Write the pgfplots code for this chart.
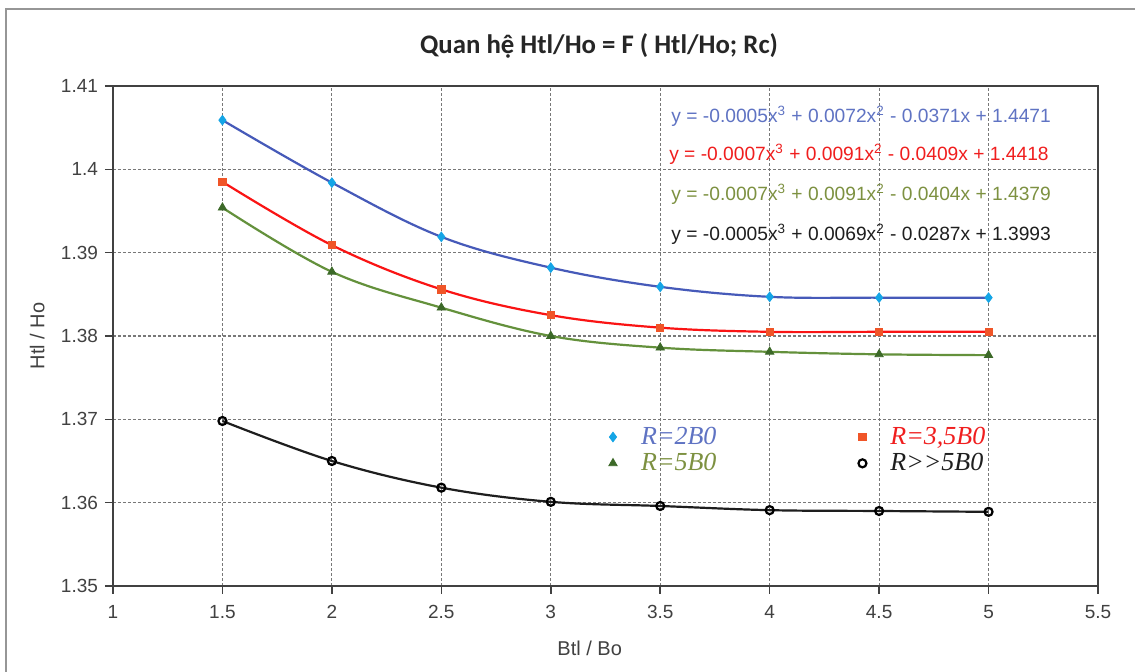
\documentclass[border=0pt]{standalone}
\usepackage{fontspec}
\setmainfont{Liberation Sans}
\newfontfamily\titlefont{Carlito}
\newfontfamily\legfont{Liberation Serif}
\usepackage{pgfplots}
\pgfplotsset{compat=1.18}
\definecolor{bline}{RGB}{70,90,185}
\definecolor{bmark}{RGB}{20,165,230}
\definecolor{btext}{RGB}{95,115,195}
\definecolor{rline}{RGB}{250,20,20}
\definecolor{rmark}{RGB}{240,85,40}
\definecolor{rtext}{RGB}{240,30,30}
\definecolor{gline}{RGB}{100,145,60}
\definecolor{gmark}{RGB}{60,105,40}
\definecolor{gtext}{RGB}{125,145,65}
\definecolor{kline}{RGB}{30,30,30}
\definecolor{axc}{RGB}{65,65,65}
\definecolor{gridc}{RGB}{120,120,120}
\definecolor{framec}{RGB}{150,150,150}

\pgfplotstableread{
x y
1.5 1.4059
2.0 1.3984
2.5 1.3919
3.0 1.3882
3.5 1.3859
4.0 1.3847
4.5 1.3846
5.0 1.3846
}\blue
\pgfplotstableread{
x y
1.5 1.3985
2.0 1.3909
2.5 1.3856
3.0 1.3825
3.5 1.3810
4.0 1.3805
4.5 1.3805
5.0 1.3805
}\red
\pgfplotstableread{
x y
1.5 1.3954
2.0 1.3877
2.5 1.3834
3.0 1.3800
3.5 1.3786
4.0 1.3781
4.5 1.3778
5.0 1.3777
}\green
\pgfplotstableread{
x y
1.5 1.3698
2.0 1.3650
2.5 1.3618
3.0 1.3601
3.5 1.3596
4.0 1.3591
4.5 1.3590
5.0 1.3589
}\black

\begin{document}
\begin{tikzpicture}
\useasboundingbox (-56.5pt,-43pt) rectangle (511pt,293pt);
\fill[white] (-56.5pt,-43pt) rectangle (511pt,293pt);
\draw[framec, line width=0.9pt] (-53.5pt,-43pt) -- (-53.5pt,288.5pt) -- (511pt,288.5pt);
\begin{axis}[
  at={(0pt,0pt)}, anchor=south west,
  width=492.5pt, height=250pt, scale only axis,
  xmin=1, xmax=5.5, ymin=1.35, ymax=1.41,
  xtick={1,1.5,2,2.5,3,3.5,4,4.5,5,5.5},
  xticklabels={1,1.5,2,2.5,3,3.5,4,4.5,5,5.5},
  ytick={1.35,1.36,1.37,1.38,1.39,1.40,1.41},
  yticklabels={1.35,1.36,1.37,1.38,1.39,1.4,1.41},
  grid=major,
  major grid style={gridc, line width=0.6pt, dash pattern=on 1.4pt off 1.1pt},
  axis line style={axc, line width=1pt},
  tick pos=left, tick align=outside,
  major tick length=4pt,
  tick style={axc, line width=0.8pt},
  ticklabel style={font=\fontsize{9.5}{11}\selectfont, text=axc},
  xticklabel style={yshift=-2pt},
  /pgf/number format/assume math mode=true,
  xlabel={Btl / Bo}, ylabel={Htl / Ho},
  label style={font=\fontsize{10}{12}\selectfont, text=axc},
  xlabel style={at={(axis description cs:0.484,-0.124)}, anchor=center},
  ylabel style={at={(axis description cs:-0.077,0.5)}, anchor=center},
  legend columns=2,
  legend cell align=left,
  legend style={at={(axis cs:3.236,1.3701)}, anchor=north west, draw=none, fill=none,
    font=\legfont\itshape\fontsize{13}{14}\selectfont,
    /tikz/every odd column/.append style={column sep=10pt},
    /tikz/every even column/.append style={column sep=69pt},
    row sep=-1pt},
]
\addplot[bline, line width=1.1pt, smooth, tension=0.6, forget plot] table {\blue};
\addplot[rline, line width=1.1pt, smooth, tension=0.6, forget plot] table {\red};
\addplot[gline, line width=1.1pt, smooth, tension=0.6, forget plot] table {\green};
\addplot[kline, line width=1.1pt, smooth, tension=0.6, forget plot] table {\black};

\addplot[only marks, mark=diamond*, mark size=2.4pt, mark options={fill=bmark, draw=bmark}] table {\blue};
\addlegendentry{\textcolor{btext}{R=2B0}}
\addplot[only marks, mark=square*, mark size=1.8pt, mark options={fill=rmark, draw=rmark}] table {\red};
\addlegendentry{\textcolor{rtext}{R=3,5B0}}
\addplot[only marks, mark=triangle*, mark size=2.4pt, mark options={fill=gmark, draw=gmark}] table {\green};
\addlegendentry{\textcolor{gtext}{R=5B0}}
\addplot[only marks, mark=o, mark size=2pt, mark options={draw=black, line width=1.1pt}] table {\black};
\addlegendentry{\textcolor{kline}{R>{}>5B0}}

\node[font=\fontsize{9.6}{12}\selectfont, text=btext] at (axis cs:4.418,1.4064) {y = -0.0005x\textsuperscript{3} + 0.0072x\textsuperscript{2} - 0.0371x + 1.4471};
\node[font=\fontsize{9.6}{12}\selectfont, text=rtext] at (axis cs:4.408,1.4018) {y = -0.0007x\textsuperscript{3} + 0.0091x\textsuperscript{2} - 0.0409x + 1.4418};
\node[font=\fontsize{9.6}{12}\selectfont, text=gtext] at (axis cs:4.418,1.3970) {y = -0.0007x\textsuperscript{3} + 0.0091x\textsuperscript{2} - 0.0404x + 1.4379};
\node[font=\fontsize{9.6}{12}\selectfont, text=kline] at (axis cs:4.418,1.3922) {y = -0.0005x\textsuperscript{3} + 0.0069x\textsuperscript{2} - 0.0287x + 1.3993};
\end{axis}
\node[font=\titlefont\bfseries\fontsize{13.4}{15}\selectfont, text=black!85] at (243pt,270pt) {Quan hệ Htl/Ho = F ( Htl/Ho; Rc)};
\end{tikzpicture}
\end{document}
